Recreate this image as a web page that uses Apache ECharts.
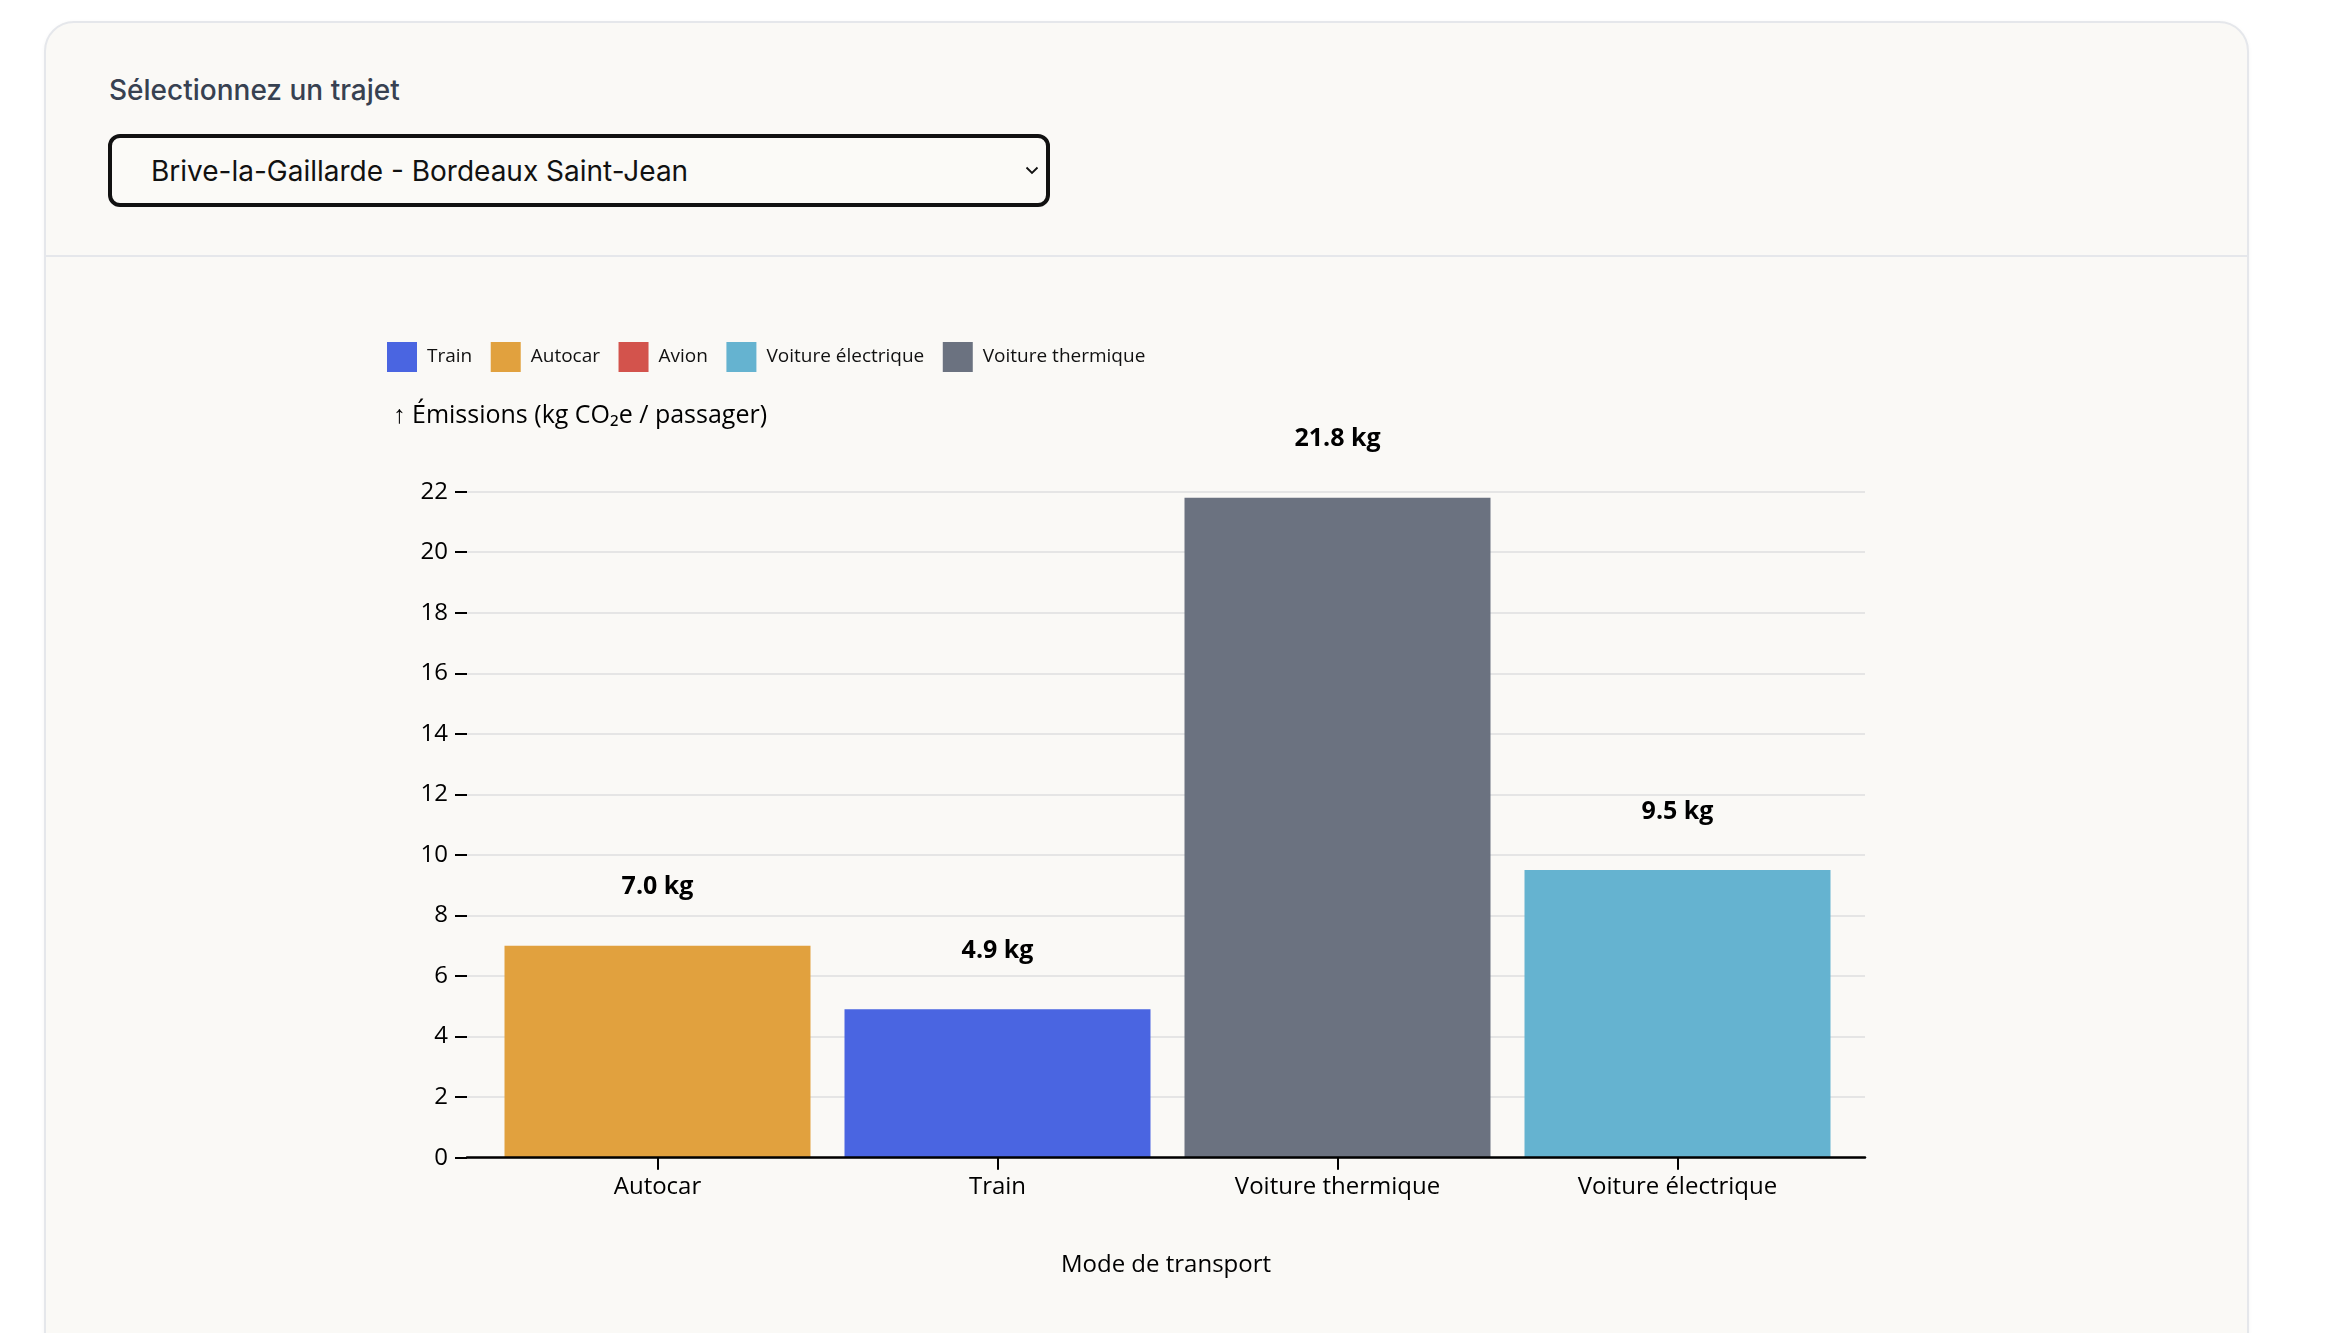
<!DOCTYPE html>
<html lang="fr">
<head>
<meta charset="utf-8">
<title>Émissions par mode de transport</title>
<script src="https://cdn.jsdelivr.net/npm/echarts@6/dist/echarts.min.js"></script>
<style>
  html, body { margin: 0; padding: 0; background: #ffffff; width: 2338px; height: 1333px; overflow: hidden; }
  .card { position: absolute; left: 44px; top: 21px; width: 2205px; height: 1400px; box-sizing: border-box;
          border: 2px solid #e5e7eb; border-radius: 30px; background: #faf9f6; box-shadow: 0 1px 4px rgba(0,0,0,0.04); }
  .divider { position: absolute; left: 46px; width: 2201px; top: 255px; height: 2px; background: #e5e7eb; }
  .lbl { position: absolute; left: 109px; top: 76px; font-family: Inter, sans-serif; font-size: 28px; line-height: 28px;
         font-weight: 500; color: #374151; white-space: nowrap; }
  select { position: absolute; left: 108px; top: 134px; width: 942px; height: 73px; box-sizing: border-box;
           border: 4px solid #111; border-radius: 12px; background-color: #fbfaf7; color: #111;
           font-family: Inter, sans-serif; font-size: 28px; padding: 0 0 0 39px; margin: 0;
           -webkit-appearance: none; appearance: none; outline: none;
           background-image: url("data:image/svg+xml;utf8,<svg xmlns='http://www.w3.org/2000/svg' width='14' height='9' viewBox='0 0 14 9'><path d='M1.5 1.5 L7 7 L12.5 1.5' fill='none' stroke='%23111' stroke-width='1.8'/></svg>");
           background-repeat: no-repeat; background-position: right 7px center; }
  #chart { position: absolute; left: 0; top: 0; width: 2338px; height: 1333px; }
</style>
</head>
<body>
<div class="card"></div>
<div class="divider"></div>
<div class="lbl">Sélectionnez un trajet</div>
<select><option>Brive-la-Gaillarde - Bordeaux Saint-Jean</option></select>
<div id="chart"></div>
<script>
// ---- data ----
const categories = ['Autocar', 'Train', 'Voiture thermique', 'Voiture électrique'];
const emissions = [7.0, 4.9, 21.8, 9.5];
const legendModes = ['Train', 'Autocar', 'Avion', 'Voiture électrique', 'Voiture thermique'];
const yMin = 0, yMax = 22, yStep = 2;
const yTitle = '↑ Émissions (kg CO₂e / passager)';
const xTitle = 'Mode de transport';

// ---- styles ----
const modeColors = {
  'Train': '#4a65e1',
  'Autocar': '#e1a13e',
  'Avion': '#d3534c',
  'Voiture électrique': '#65b3d0',
  'Voiture thermique': '#6b7280'
};
const FONT = '"Open Sans", "Noto Sans", sans-serif';

const chart = echarts.init(document.getElementById('chart'), null, { renderer: 'canvas' });

const series = legendModes.map(mode => ({
  name: mode,
  type: 'bar',
  stack: 'mode',
  xAxisIndex: 0,
  yAxisIndex: 0,
  barWidth: 306,
  itemStyle: { color: modeColors[mode] },
  emphasis: { disabled: true },
  label: {
    show: true,
    position: 'top',
    distance: 46,
    formatter: p => Number(p.value).toFixed(1) + ' kg',
    fontFamily: FONT,
    fontWeight: 'bold',
    fontSize: 25,
    color: '#000'
  },
  data: categories.map((c, i) => (c === mode ? emissions[i] : '-'))
}));

chart.setOption({
  animation: false,
  backgroundColor: 'transparent',
  title: {
    text: yTitle,
    left: 393,
    top: 399,
    padding: 0,
    textStyle: { fontFamily: FONT, fontSize: 25, fontWeight: 'normal', color: '#000', lineHeight: 34 }
  },
  legend: {
    data: legendModes,
    left: 387,
    top: 342,
    padding: 0,
    itemWidth: 30,
    itemHeight: 30,
    itemGap: 18.5,
    icon: 'rect',
    selectedMode: false,
    textStyle: { fontFamily: FONT, fontSize: 19, color: '#111', padding: [0, 0, 0, 5] }
  },
  grid: [
    { left: 487.5, top: 491.7, width: 1360, height: 666 },
    { left: 467, top: 491.7, width: 1398, height: 666 }
  ],
  xAxis: [
    {
      type: 'category', gridIndex: 0, data: categories,
      axisLine: { show: false },
      axisTick: { show: true, alignWithLabel: true, length: 12, lineStyle: { color: '#000', width: 2 } },
      axisLabel: { fontFamily: FONT, fontSize: 24, color: '#000', margin: 17 },
      splitLine: { show: false }
    },
    {
      type: 'category', gridIndex: 1, data: categories, z: 5,
      axisLine: { show: true, lineStyle: { color: '#000', width: 2.5 } },
      axisTick: { show: false },
      axisLabel: { show: false },
      splitLine: { show: false },
      name: xTitle,
      nameLocation: 'middle',
      nameGap: 95,
      nameTextStyle: { fontFamily: FONT, fontSize: 24, color: '#000' }
    }
  ],
  yAxis: [
    { type: 'value', gridIndex: 0, min: yMin, max: yMax, interval: yStep, show: false },
    {
      type: 'value', gridIndex: 1, min: yMin, max: yMax, interval: yStep,
      axisLine: { show: false },
      axisTick: { show: true, length: 12, lineStyle: { color: '#000', width: 2 } },
      axisLabel: { fontFamily: FONT, fontSize: 24, color: '#000', margin: 19 },
      splitLine: { show: true, lineStyle: { color: '#e5e5e5', width: 2 } }
    }
  ],
  series: series
});
</script>
</body>
</html>
